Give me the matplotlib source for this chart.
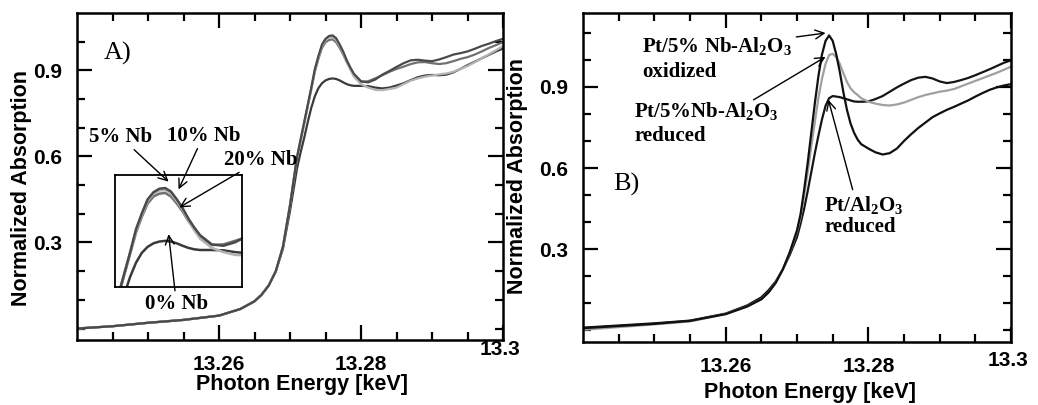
import matplotlib
matplotlib.use('Agg')
import matplotlib.pyplot as plt
from matplotlib.transforms import ScaledTranslation
import numpy as np

plt.rcParams['font.family'] = ['Liberation Sans', 'DejaVu Sans']
plt.rcParams['mathtext.fontset'] = 'custom'
plt.rcParams['mathtext.rm'] = 'Liberation Serif'
plt.rcParams['mathtext.bf'] = 'Liberation Serif:bold'

# energy grid shared by both panels (keV)
energy = [13.240, 13.245, 13.250, 13.255, 13.260, 13.263, 13.265, 13.266, 13.267, 13.268,
          13.269, 13.270, 13.2705, 13.271, 13.2715, 13.272, 13.2725, 13.273, 13.2735, 13.274,
          13.2745, 13.275, 13.2755, 13.276, 13.2765, 13.277, 13.2775, 13.278, 13.2785, 13.279,
          13.280, 13.281, 13.282, 13.283, 13.284, 13.285, 13.286, 13.287, 13.288, 13.289,
          13.290, 13.291, 13.292, 13.293, 13.294, 13.295, 13.296, 13.297, 13.298, 13.299, 13.300]

# panel A: Pt on Nb-doped alumina, different Nb loadings
nb10 = [0.000, 0.008, 0.020, 0.030, 0.045, 0.068, 0.095, 0.118, 0.150, 0.200,
        0.285, 0.430, 0.515, 0.600, 0.660, 0.720, 0.780, 0.840, 0.905, 0.950,
        0.990, 1.010, 1.020, 1.022, 1.012, 0.990, 0.965, 0.935, 0.910, 0.888,
        0.862, 0.858, 0.868, 0.885, 0.898, 0.912, 0.925, 0.935, 0.937, 0.934,
        0.932, 0.938, 0.946, 0.955, 0.960, 0.966, 0.975, 0.985, 0.993, 1.002, 1.010]
nb20 = [0.000, 0.008, 0.020, 0.030, 0.045, 0.068, 0.095, 0.118, 0.150, 0.200,
        0.285, 0.430, 0.515, 0.595, 0.655, 0.715, 0.775, 0.835, 0.895, 0.940,
        0.978, 0.998, 1.006, 1.008, 0.998, 0.978, 0.955, 0.928, 0.905, 0.884,
        0.860, 0.862, 0.872, 0.883, 0.895, 0.905, 0.913, 0.922, 0.928, 0.929,
        0.925, 0.922, 0.925, 0.932, 0.940, 0.946, 0.955, 0.966, 0.978, 0.988, 0.998]
nb5 = [0.000, 0.008, 0.020, 0.030, 0.045, 0.068, 0.095, 0.118, 0.150, 0.200,
       0.285, 0.430, 0.515, 0.598, 0.658, 0.718, 0.778, 0.838, 0.900, 0.945,
       0.985, 1.006, 1.015, 1.016, 1.006, 0.985, 0.960, 0.930, 0.902, 0.878,
       0.852, 0.840, 0.832, 0.831, 0.835, 0.840, 0.852, 0.864, 0.872, 0.878,
       0.882, 0.886, 0.889, 0.895, 0.905, 0.915, 0.928, 0.942, 0.956, 0.970, 0.985]
nb0 = [0.000, 0.008, 0.020, 0.030, 0.045, 0.068, 0.095, 0.118, 0.150, 0.200,
       0.278, 0.410, 0.485, 0.560, 0.615, 0.665, 0.720, 0.770, 0.810, 0.838,
       0.855, 0.865, 0.870, 0.872, 0.870, 0.865, 0.858, 0.852, 0.848, 0.846,
       0.846, 0.845, 0.840, 0.837, 0.840, 0.847, 0.855, 0.866, 0.876, 0.882,
       0.884, 0.883, 0.885, 0.893, 0.905, 0.918, 0.930, 0.942, 0.954, 0.966, 0.976]

# panel B: oxidized / reduced samples
ox_nb5 = [0.008, 0.016, 0.024, 0.035, 0.060, 0.088, 0.115, 0.140, 0.175, 0.225,
          0.290, 0.370, 0.430, 0.520, 0.620, 0.730, 0.840, 0.940, 1.020, 1.070,
          1.090, 1.070, 1.020, 0.955, 0.880, 0.815, 0.765, 0.730, 0.705, 0.688,
          0.672, 0.658, 0.650, 0.655, 0.672, 0.700, 0.725, 0.748, 0.768, 0.788,
          0.802, 0.815, 0.826, 0.838, 0.850, 0.864, 0.877, 0.889, 0.898, 0.905, 0.910]
red_nb5 = [0.002, 0.012, 0.022, 0.033, 0.060, 0.088, 0.115, 0.140, 0.175, 0.225,
           0.288, 0.365, 0.420, 0.500, 0.585, 0.680, 0.770, 0.860, 0.930, 0.985,
           1.018, 1.022, 1.010, 0.985, 0.950, 0.918, 0.895, 0.880, 0.870, 0.858,
           0.845, 0.838, 0.833, 0.831, 0.835, 0.842, 0.852, 0.862, 0.870, 0.876,
           0.882, 0.886, 0.892, 0.902, 0.912, 0.922, 0.932, 0.942, 0.952, 0.963, 0.975]
red_al = [0.010, 0.018, 0.026, 0.036, 0.062, 0.092, 0.122, 0.148, 0.180, 0.225,
          0.280, 0.345, 0.395, 0.450, 0.515, 0.585, 0.655, 0.720, 0.780, 0.830,
          0.858, 0.866, 0.864, 0.862, 0.858, 0.854, 0.850, 0.846, 0.845, 0.845,
          0.846, 0.855, 0.866, 0.882, 0.898, 0.912, 0.925, 0.934, 0.937, 0.931,
          0.920, 0.914, 0.918, 0.925, 0.933, 0.943, 0.954, 0.965, 0.977, 0.989, 0.998]

x_ticks = [13.26, 13.28, 13.30]
x_tick_labels = ['13.26', '13.28', '13.3']
y_ticks = [0.3, 0.6, 0.9]
y_tick_labels = ['0.3', '0.6', '0.9']

serif = dict(family='Liberation Serif', fontsize=15, fontweight='bold')
arrow = dict(arrowstyle='->', color='black', lw=1.0, shrinkA=0, shrinkB=0,
             mutation_scale=16)


def style_axes(ax, ylim, last_shift):
    ax.set_xlim(13.24, 13.30)
    ax.set_ylim(*ylim)
    ax.set_xticks(x_ticks)
    ax.set_xticklabels(x_tick_labels)
    ax.set_xticks(np.arange(13.245, 13.300, 0.005), minor=True)
    ax.set_yticks(y_ticks)
    ax.set_yticklabels(y_tick_labels)
    ax.set_yticks(np.arange(0.0, ylim[1], 0.1), minor=True)
    ax.tick_params(which='both', direction='in', top=True, right=True, width=1.6,
                   labelsize=15)
    ax.tick_params(which='major', length=11, pad=11)
    ax.tick_params(which='minor', length=6)
    for lab in ax.get_xticklabels() + ax.get_yticklabels():
        lab.set_fontweight('bold')
    last = ax.get_xticklabels()[-1]
    last.set_transform(last.get_transform() +
                       ScaledTranslation(-0.03, last_shift, ax.figure.dpi_scale_trans))
    for sp in ax.spines.values():
        sp.set_linewidth(1.8)
    ax.set_xlabel('Photon Energy [keV]', fontsize=15.5, fontweight='bold')
    ax.set_ylabel('Normalized Absorption', fontsize=15.5, fontweight='bold')


fig = plt.figure(figsize=(10.38, 4.05), dpi=100)
axA = fig.add_axes([0.0742, 0.1605, 0.4104, 0.8074])
axB = fig.add_axes([0.5617, 0.1556, 0.4123, 0.8123])

# ---- panel A
curvesA = [(nb0, '#3a3a3a'), (nb20, '#707070'), (nb5, '#b4b4b4'), (nb10, '#4a4a4a')]
for y, c in curvesA:
    axA.plot(energy, y, color=c, lw=1.6)
style_axes(axA, (-0.04, 1.10), 0.15)
axA.xaxis.set_label_coords(0.528, -0.105)
axA.yaxis.set_label_coords(-0.106, 0.465)

axA.text(13.2437, 0.959, 'A)', family='Liberation Serif', fontsize=19, va='center')
axA.annotate('5% Nb', xy=(13.2529, 0.512), xytext=(13.2461, 0.668),
             ha='center', va='center', arrowprops=arrow, **serif)
axA.annotate('10% Nb', xy=(13.2543, 0.485), xytext=(13.2578, 0.672),
             ha='center', va='center', arrowprops=arrow, **serif)
axA.annotate('20% Nb', xy=(13.2544, 0.422), xytext=(13.2659, 0.589),
             ha='center', va='center', arrowprops=arrow, **serif)
axA.annotate('0% Nb', xy=(13.2529, 0.329), xytext=(13.2540, 0.087),
             ha='center', va='center', arrowprops=arrow, **serif)

# inset: magnified white line region, drawn below panel A so the arrows stay visible
axI = fig.add_axes([0.1108, 0.2914, 0.1224, 0.2765])
for y, c in curvesA:
    axI.plot(energy, y, color=c, lw=1.8)
axI.set_xlim(13.2717, 13.2826)
axI.set_ylim(0.741, 1.059)
axI.set_xticks([])
axI.set_yticks([])
for sp in axI.spines.values():
    sp.set_linewidth(1.3)
axI.set_zorder(0)
axA.set_zorder(1)
axA.patch.set_alpha(0)

# ---- panel B
axB.plot(energy, red_al, color='#151515', lw=1.6)
axB.plot(energy, red_nb5, color='#a0a0a0', lw=1.6)
axB.plot(energy, ox_nb5, color='#101010', lw=1.6)
style_axes(axB, (-0.043, 1.173), 0.06)
axB.xaxis.set_label_coords(0.53, -0.122)
axB.yaxis.set_label_coords(-0.128, 0.505)

axB.text(13.2442, 0.538, 'B)', family='Liberation Serif', fontsize=19, va='center')
axB.annotate('', xy=(13.2740, 1.099), xytext=(13.2699, 1.0845), arrowprops=arrow)
axB.annotate('', xy=(13.2740, 1.011), xytext=(13.2639, 0.852), arrowprops=arrow)
axB.annotate('', xy=(13.2744, 0.852), xytext=(13.2778, 0.520), arrowprops=arrow)
axB.text(13.2483, 1.048, r'Pt/5% Nb-Al$_\mathbf{2}$O$_\mathbf{3}$', va='center', **serif)
axB.text(13.2483, 0.955, 'oxidized', va='center', **serif)
axB.text(13.2472, 0.808, r'Pt/5%Nb-Al$_\mathbf{2}$O$_\mathbf{3}$', va='center', **serif)
axB.text(13.2472, 0.719, 'reduced', va='center', **serif)
axB.text(13.2738, 0.461, r'Pt/Al$_\mathbf{2}$O$_\mathbf{3}$', va='center', **serif)
axB.text(13.2738, 0.383, 'reduced', va='center', **serif)

fig.savefig('out.png', dpi=100)
